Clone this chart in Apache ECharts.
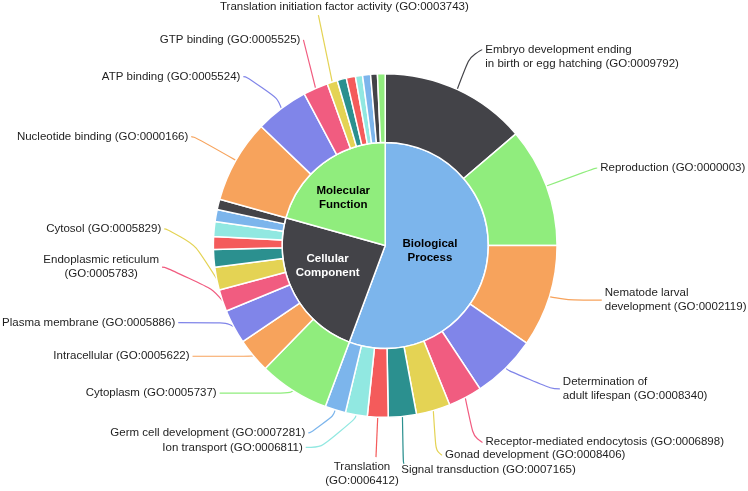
<!DOCTYPE html>
<html>
<head>
<meta charset="utf-8">
<script src="https://cdn.jsdelivr.net/npm/echarts@6/dist/echarts.min.js"></script>
<style>html,body{margin:0;padding:0;background:#fff}#c{width:748px;height:491px}</style>
</head>
<body>
<div id="c"></div>
<script>
const palette = ['#7cb5ec','#434348','#90ed7d','#f7a35c','#8085e9','#f15c80','#e4d354','#2b908f','#f45b5b','#91e8e1'];

// ---- data ----
const categories = ['Biological\nProcess', 'Cellular\nComponent', 'Molecular\nFunction'];
const categoryValues = [200.4, 85.2, 74.4];

const bpTerms = [
  'Embryo development ending\nin birth or egg hatching (GO:0009792)',
  'Reproduction (GO:0000003)',
  'Nematode larval\ndevelopment (GO:0002119)',
  'Determination of\nadult lifespan (GO:0008340)',
  'Receptor-mediated endocytosis (GO:0006898)',
  'Gonad development (GO:0008406)',
  'Signal transduction (GO:0007165)',
  'Translation\n(GO:0006412)',
  'Ion transport (GO:0006811)',
  'Germ cell development (GO:0007281)'
];
const bpValues = [49.5, 40.5, 34.6, 21.9, 11.5, 11.5, 9.5, 7.0, 7.4, 7.0];

const ccTerms = [
  'Cytoplasm (GO:0005737)',
  'Intracellular (GO:0005622)',
  'Plasma membrane (GO:0005886)',
  'Endoplasmic reticulum\n(GO:0005783)',
  'Cytosol (GO:0005829)',
  '', '', '', '', ''
];
const ccValues = [23.9, 11.7, 11.6, 7.4, 7.7, 6.0, 4.3, 5.0, 4.1, 3.5];

const mfTerms = [
  'Nucleotide binding (GO:0000166)',
  'ATP binding (GO:0005524)',
  'GTP binding (GO:0005525)',
  'Translation initiation factor activity (GO:0003743)',
  '', '', '', '', '', ''
];
const mfValues = [28.2, 18.1, 8.4, 3.5, 3.1, 3.1, 2.4, 2.7, 2.3, 2.6];

// ---- label-line styling: [length, length2, bend, special, labelDx, labelDy] ----
const bpLines = [[36,10,-7,null,0,7],[52,2,0],[12,41,0],[29,34,0],[20,8,27],[10,6,35],[8,1,39,null,-6,6],[40,0,0,'below'],[33,45,0],[24,20,0]];
const ccLines = [[3,72,0],[1,60,0],[4,52,-6],[30,32,-43,'centerLines'],[32,21,-56]];
const mfLines = [[48,3,0],[20,26,-16],[30,0,-21],[45,0,-24,'above']];

const groups = [
  {terms: bpTerms, values: bpValues, lines: bpLines, colorStart: 1},
  {terms: ccTerms, values: ccValues, lines: ccLines, colorStart: 2},
  {terms: mfTerms, values: mfValues, lines: mfLines, colorStart: 3}
];

const outerData = [];
const outerCfg = [];
groups.forEach(g => {
  g.values.forEach((v, j) => {
    const item = {
      name: g.terms[j],
      value: v,
      itemStyle: {color: palette[(g.colorStart + j) % 10]}
    };
    const cfg = g.lines[j];
    if (!g.terms[j] || !cfg) {
      item.label = {show: false};
      item.labelLine = {show: false};
      outerCfg.push(null);
    } else {
      item.labelLine = {length: cfg[0], length2: cfg[1]};
      if (cfg[3] === 'centerLines') {
        item.label = {
          formatter: p => p.name.split('\n').map(s => '{c|' + s + '}').join('\n')
        };
      }
      outerCfg.push(cfg);
    }
    outerData.push(item);
  });
});

const innerTextColors = ['#000', '#fff', '#000'];
const innerData = categories.map((c, i) => ({
  name: c,
  value: categoryValues[i],
  itemStyle: {color: palette[i]},
  label: {color: innerTextColors[i]}
}));

const font = '"Liberation Sans", Arial, Helvetica, sans-serif';
const chart = echarts.init(document.getElementById('c'));
chart.setOption({
  animation: false,
  backgroundColor: '#fff',
  series: [
    {
      type: 'pie',
      radius: [0, '42%'],
      center: ['51.5%', '50%'],
      startAngle: 90,
      clockwise: true,
      silent: true,
      data: innerData,
      itemStyle: {borderColor: '#fff', borderWidth: 1.5},
      label: {
        show: true,
        position: 'inner',
        fontFamily: font,
        fontSize: 11.5,
        fontWeight: 'bold',
        lineHeight: 14,
        align: 'center'
      },
      labelLine: {show: false},
      labelLayout: function (p) {
        const r = p.labelRect;
        return {x: r.x + r.width / 2 - 9, y: r.y + r.height / 2 - 4, align: 'center', verticalAlign: 'middle'};
      }
    },
    {
      type: 'pie',
      radius: ['42%', '70%'],
      center: ['51.5%', '50%'],
      startAngle: 90,
      clockwise: true,
      silent: true,
      avoidLabelOverlap: false,
      data: outerData,
      itemStyle: {borderColor: '#fff', borderWidth: 1.5},
      label: {
        show: true,
        position: 'outside',
        fontFamily: font,
        fontSize: 11.5,
        color: '#1e1e1e',
        lineHeight: 14,
        overflow: 'none',
        bleedMargin: 0,
        distanceToLabelLine: 3,
        rich: {
          c: {align: 'center', fontFamily: font, fontSize: 11.5, color: '#1e1e1e', lineHeight: 14}
        }
      },
      labelLine: {
        show: true,
        smooth: 0.9,
        minTurnAngle: 0,
        lineStyle: {width: 1.2}
      },
      labelLayout: function (p) {
        const cfg = outerCfg[p.dataIndex];
        const pts = p.labelLinePoints;
        if (!cfg || !pts) return {};
        const bend = cfg[2] || 0;
        const p0 = [pts[0][0], pts[0][1]];
        const p1 = [pts[1][0], pts[1][1] + bend];
        const p2 = [pts[2][0], pts[2][1] + bend];
        const dir = p.align === 'right' ? -1 : 1;
        const out = {
          x: p2[0] + dir * 3 + (cfg[4] || 0),
          y: p2[1] + (cfg[5] || 0),
          align: p.align,
          verticalAlign: 'middle',
          labelLinePoints: [p0, p1, p2]
        };
        if (cfg[3] === 'below') {
          out.align = 'center'; out.verticalAlign = 'top';
          out.x = p2[0] - 14; out.y = p2[1] + 3;
        } else if (cfg[3] === 'above') {
          out.align = 'center'; out.verticalAlign = 'bottom';
          out.x = p2[0] + 26; out.y = p2[1] - 1;
        }
        return out;
      }
    }
  ]
});
</script>
</body>
</html>
